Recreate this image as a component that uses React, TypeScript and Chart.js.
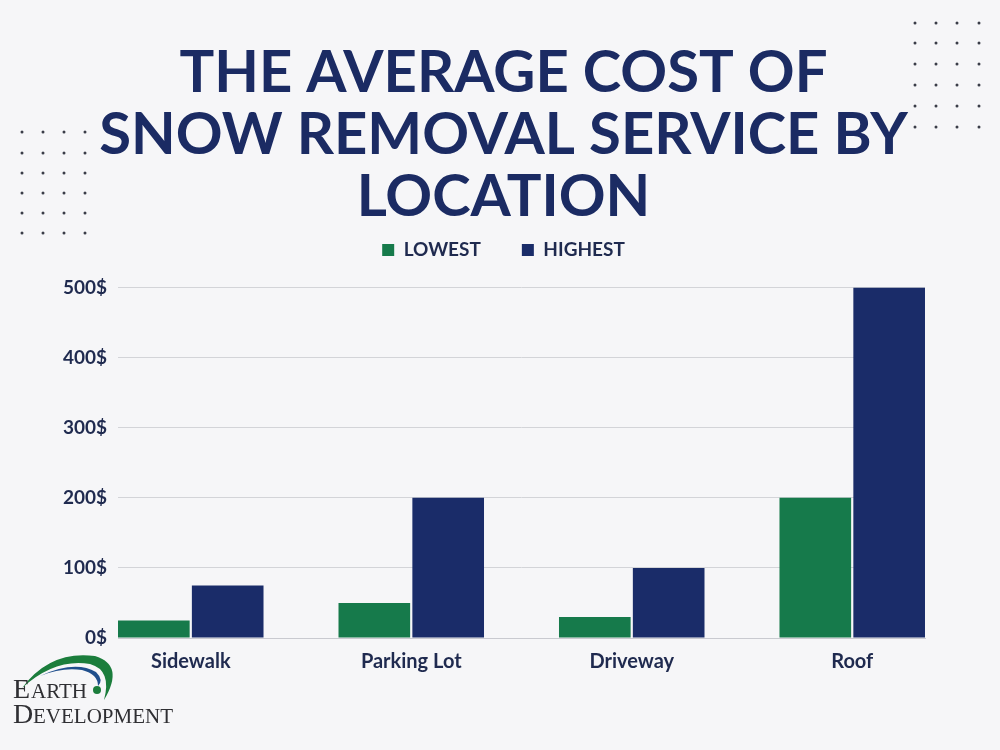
import React, { useEffect, useRef } from "react";
import { Chart, registerables, layouts } from "chart.js";

Chart.register(...registerables);

const categories = ["Sidewalk", "Parking Lot", "Driveway", "Roof"];
const lowestValues = [25, 50, 30, 200];
const highestValues = [75, 200, 100, 500];
const seriesLabels = ["LOWEST", "HIGHEST"];
const yTickValues = [0, 100, 200, 300, 400, 500];
const titleLines = ["THE AVERAGE COST OF", "SNOW REMOVAL SERVICE BY", "LOCATION"];

const BG = "#f6f6f8";
const GREEN = "#167a4b";
const NAVY = "#1a2c69";
const TITLE_COLOR = "#1b2b63";
const TEXT = "#1f2a4f";
const FONT = "Lato, 'Open Sans', sans-serif";

const spacerPlugin = {
  id: "spacer",
  beforeInit(chart: any) {
    const box: any = {
      position: "top",
      weight: 500,
      fullSize: true,
      options: {},
      top: 0,
      left: 0,
      right: 0,
      bottom: 0,
      width: 0,
      height: 0,
      update(maxWidth: number) {
        this.width = maxWidth;
        this.height = 18;
      },
      isHorizontal() {
        return true;
      },
      draw() {},
    };
    layouts.addBox(chart, box);
  },
};

const decorPlugin = {
  id: "decor",
  beforeDraw(chart: any) {
    const ctx = chart.ctx;
    ctx.save();
    ctx.fillStyle = BG;
    ctx.fillRect(0, 0, chart.width, chart.height);
    ctx.fillStyle = "#3a3d48";
    const drawDots = (xs: number[], ys: number[]) => {
      for (const x of xs) for (const y of ys) {
        ctx.beginPath();
        ctx.arc(x, y, 1.5, 0, Math.PI * 2);
        ctx.fill();
      }
    };
    drawDots([915, 936, 957, 979], [23, 43, 64, 85, 106, 127]);
    drawDots([22, 43, 64, 85], [132, 153, 173, 193, 213, 233]);
    ctx.restore();
  },
  afterDraw(chart: any) {
    const ctx = chart.ctx;
    ctx.save();
    // swoosh
    ctx.fillStyle = "#1b7d3c";
    ctx.beginPath();
    ctx.moveTo(22, 688);
    ctx.quadraticCurveTo(50, 650, 95, 656);
    ctx.quadraticCurveTo(125, 665, 104, 700);
    ctx.quadraticCurveTo(112, 670, 90, 664);
    ctx.quadraticCurveTo(55, 658, 22, 688);
    ctx.fill();
    ctx.fillStyle = "#1f4e8c";
    ctx.beginPath();
    ctx.moveTo(40, 676);
    ctx.quadraticCurveTo(75, 660, 96, 672);
    ctx.quadraticCurveTo(104, 680, 98, 686);
    ctx.quadraticCurveTo(98, 674, 82, 670);
    ctx.quadraticCurveTo(62, 667, 40, 676);
    ctx.fill();
    ctx.fillStyle = "#1b7d3c";
    ctx.beginPath();
    ctx.arc(97, 690, 4, 0, Math.PI * 2);
    ctx.fill();
    // text
    ctx.fillStyle = "#2f2f33";
    ctx.textBaseline = "alphabetic";
    ctx.textAlign = "left";
    ctx.font = "28px 'Liberation Serif', serif";
    ctx.fillText("E", 13, 698);
    ctx.fillText("D", 13, 723);
    ctx.font = "21px 'Liberation Serif', serif";
    ctx.fillText("ARTH", 31, 698);
    ctx.fillText("EVELOPMENT", 33, 723);
    ctx.restore();
  },
};

export default function App() {
  const canvasRef = useRef<HTMLCanvasElement | null>(null);

  useEffect(() => {
    document.body.style.margin = "0";
    document.body.style.background = BG;
    const canvas = canvasRef.current;
    if (!canvas) return;
    const chart = new Chart(canvas, {
      type: "bar",
      data: {
        datasets: [
          {
            label: seriesLabels[0],
            data: lowestValues.map((v, i) => ({ x: i, y: v })),
            backgroundColor: GREEN,
            categoryPercentage: 0.67,
            barPercentage: 0.97,
          },
          {
            label: seriesLabels[1],
            data: highestValues.map((v, i) => ({ x: i, y: v })),
            backgroundColor: NAVY,
            categoryPercentage: 0.67,
            barPercentage: 0.97,
          },
        ],
      },
      options: {
        animation: false,
        responsive: false,
        maintainAspectRatio: false,
        layout: { padding: { left: 7, right: 0, top: 0, bottom: 62 } },
        plugins: {
          title: {
            display: true,
            text: titleLines,
            color: TITLE_COLOR,
            font: { family: FONT, size: 58, weight: "bold", lineHeight: 62 / 58 },
            padding: { top: 42, bottom: -28.5 },
          },
          legend: {
            display: true,
            position: "top",
            labels: {
              boxWidth: 12,
              boxHeight: 12,
              padding: 41,
              color: TEXT,
              font: { family: FONT, size: 19, weight: "bold" },
            },
          },
          tooltip: { enabled: false },
        },
        scales: {
          x: {
            type: "linear",
            min: -0.33,
            max: 3.33,
            offset: false,
            afterBuildTicks: (s: any) => {
              s.ticks = categories.map((_, i) => ({ value: i }));
            },
            afterFit: (s: any) => {
              s.height = 50;
            },
            ticks: {
              autoSkip: false,
              maxRotation: 0,
              padding: 12,
              color: TEXT,
              font: { family: FONT, size: 20, weight: "bold" },
              callback: (v: any) => categories[v] ?? "",
            },
            grid: { display: false, drawTicks: false, offset: false },
            border: { display: true, color: "#c9cad0" },
          },
          y: {
            min: 0,
            max: 500,
            afterBuildTicks: (s: any) => {
              s.ticks = yTickValues.map((v) => ({ value: v }));
            },
            afterFit: (s: any) => {
              s.width = 111;
            },
            ticks: {
              padding: 11,
              color: TEXT,
              font: { family: FONT, size: 19, weight: "bold" },
              callback: (v: any) => `${v}$`,
            },
            grid: { color: "#d3d4d8", drawTicks: false },
            border: { display: false },
          },
          yRight: {
            position: "right",
            display: true,
            min: 0,
            max: 500,
            afterFit: (s: any) => {
              s.width = 75;
            },
            ticks: { display: false },
            grid: { display: false, drawTicks: false },
            border: { display: false },
          },
        },
      },
      plugins: [spacerPlugin, decorPlugin],
    });
    return () => chart.destroy();
  }, []);

  return (
    <div style={{ width: 1000, height: 750 }}>
      <canvas ref={canvasRef} width={1000} height={750} style={{ display: "block" }} />
    </div>
  );
}
